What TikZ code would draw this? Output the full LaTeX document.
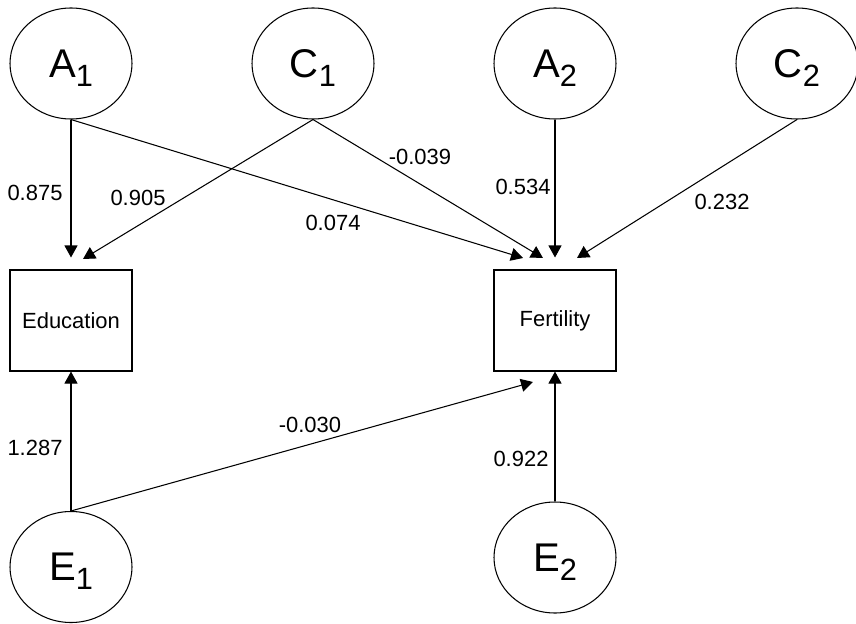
\documentclass[tikz,border=0pt]{standalone}
\usepackage{fontspec}
\setmainfont{Liberation Sans}
\usepackage{tikz}
\usetikzlibrary{shapes.geometric, arrows.meta}
\tikzset{
every picture/.style={line width=0.6pt, >={Triangle[length=0.24cm,width=0.26cm]}},
%%%%%%%%%%  Node styles
latent/.style={ellipse, draw, inner sep=0pt, minimum width=2.44cm,
               minimum height=2.22cm, text depth=0pt,
               font=\fontsize{22.8}{22.8}\selectfont},
observed/.style={rectangle, draw, inner sep=0pt, minimum width=2.44cm,
                 minimum height=2.02cm, font=\fontsize{12.5}{14}\selectfont},
coef/.style={inner sep=0pt, font=\fontsize{12.5}{14}\selectfont},
%%%% path styles
regpath/.style={->},
topgap/.style={->, shorten >=0.24cm}
}
%% latent variable with lowered index
\newcommand{\latvar}[2]{#1\raisebox{-0.18cm}{\fontsize{17.5}{17.5}\selectfont #2}}

\begin{document}
\begin{tikzpicture}
\useasboundingbox (0,0) rectangle (17.12,12.46);
%% latent factors
\node[latent] (a1) at (1.42,11.19) {\latvar{A}{1}};
\node[latent] (c1) at (6.26,11.19) {\latvar{C}{1}};
\node[latent] (a2) at (11.10,11.19) {\latvar{A}{2}};
\node[latent] (c2) at (15.94,11.19) {\latvar{C}{2}};
\node[latent] (e1) at (1.42,1.12) {\latvar{E}{1}};
\node[latent] (e2) at (11.10,1.31) {\latvar{E}{2}};
%% observed variables
\node[observed] (edu) at (1.42,6.05) {Education};
\node[observed] (fert) at (11.10,6.05) {Fertility};
%% free arrow ends
\coordinate (tipce) at (1.66,7.28);
\coordinate (tipaf) at (10.46,7.30);
\coordinate (tipcf) at (10.86,7.30);
\coordinate (tipcc) at (11.54,7.30);
\coordinate (tipef) at (10.66,4.82);
%% paths into education
\draw[topgap] (a1.south) -- (edu.north);
\draw[regpath] (c1.south) -- (tipce);
\draw[regpath] (e1.north) -- (edu.south);
%% paths into fertility
\draw[regpath] (a1.south) -- (tipaf);
\draw[regpath] (c1.south) -- (tipcf);
\draw[topgap] (a2.south) -- (fert.north);
\draw[regpath] (c2.south) -- (tipcc);
\draw[regpath] (e1.north) -- (tipef);
\draw[regpath] (e2.north) -- (fert.south);
%% coefficients
\node[coef] (k1) at (0.70,8.60) {0.875};
\node[coef] (k2) at (2.76,8.50) {0.905};
\node[coef] (k3) at (6.66,8.00) {0.074};
\node[coef] (k4) at (8.40,9.32) {-0.039};
\node[coef] (k5) at (10.46,8.72) {0.534};
\node[coef] (k6) at (14.44,8.42) {0.232};
\node[coef] (k7) at (0.70,3.50) {1.287};
\node[coef] (k8) at (6.20,3.96) {-0.030};
\node[coef] (k9) at (10.42,3.28) {0.922};
\end{tikzpicture}
\end{document}
